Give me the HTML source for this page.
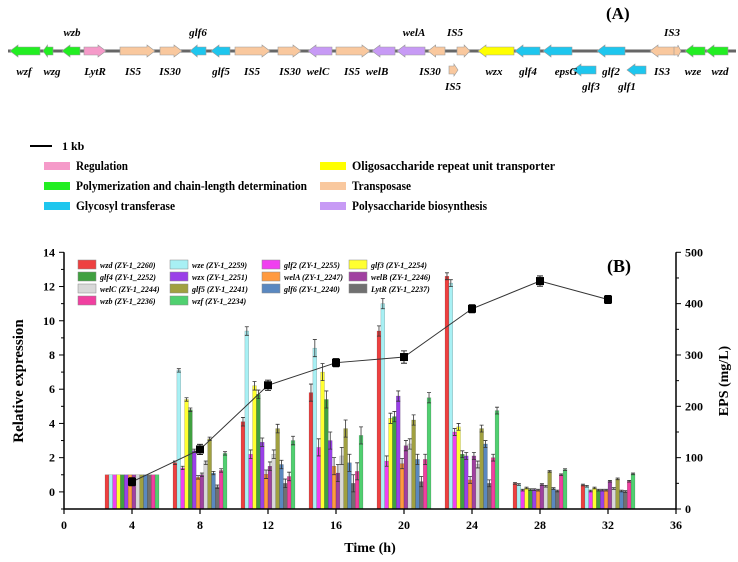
<!DOCTYPE html>
<html><head><meta charset="utf-8">
<style>
body{margin:0;background:#fff;}
svg{display:block;font-family:"Liberation Serif",serif;}
</style></head>
<body>
<svg id="fig" width="738" height="562" viewBox="0 0 738 562">
<g id="map">
<line x1="8" y1="51" x2="736" y2="51" stroke="#666" stroke-width="3"/>
</g>
<text x="606" y="19" font-size="17" font-weight="bold">(A)</text>
<g id="maplegend">
<line x1="30" y1="146" x2="52" y2="146" stroke="#000" stroke-width="2"/>
<text x="62" y="150" font-size="12" font-weight="bold">1 kb</text>
</g>
<g id="chart"></g>
</svg>
<script>
var NS="http://www.w3.org/2000/svg";
function mk(tag,attrs,parent,text){var e=document.createElementNS(NS,tag);for(var k in attrs)e.setAttribute(k,attrs[k]);if(text!==undefined)e.textContent=text;parent.appendChild(e);return e;}
var COL={reg:"#f59ac9",pol:"#22ee22",gly:"#1ec6ee",oli:"#ffff00",tra:"#f9c89e",psb:"#c79af5"};
var genes=[[10,40,-1,"pol",0],[43,53,-1,"pol",0],[62,80,-1,"pol",0],[84,106,1,"reg",0],[120,155,1,"tra",0],[160,182,1,"tra",0],[190,206,-1,"gly",0],[211,230,-1,"gly",0],[235,270,1,"tra",0],[278,301,1,"tra",0],[308,332,-1,"psb",0],[336,370,1,"tra",0],[372,395,-1,"psb",0],[397,425,-1,"psb",0],[428,445,-1,"tra",0],[457,470,1,"tra",0],[478,514,-1,"oli",0],[515,540,-1,"gly",0],[543,572,-1,"gly",0],[597,625,-1,"gly",0],[650,675,-1,"tra",0],[674,681,1,"tra",0],[685,705,-1,"pol",0],[706,728,-1,"pol",0],[449,458,1,"tra",1],[573,596,-1,"gly",1],[627,646,-1,"gly",1]];
var gmap=document.getElementById("map");
genes.forEach(function(g){var y=g[4]?70:51,h=6,hw=Math.min(8,(g[1]-g[0])*0.45),p;
 if(g[2]>0)p=[[g[0],y-h+2],[g[1]-hw,y-h+2],[g[1]-hw,y-h],[g[1],y],[g[1]-hw,y+h],[g[1]-hw,y+h-2],[g[0],y+h-2]];
 else p=[[g[1],y-h+2],[g[0]+hw,y-h+2],[g[0]+hw,y-h],[g[0],y],[g[0]+hw,y+h],[g[0]+hw,y+h-2],[g[1],y+h-2]];
 var e=mk("polygon",{points:p.map(function(q){return q.join(",")}).join(" "),fill:COL[g[3]],stroke:"#999","stroke-width":"0.6"},gmap);
 
 });
var glabels=[["wzb",72,36],["glf6",198,36],["welA",414,36],["IS5",455,36],["IS3",672,36],["wzf",24,75],["wzg",52,75],["LytR",95,75],["IS5",133,75],["IS30",170,75],["glf5",221,75],["IS5",252,75],["IS30",290,75],["welC",318,75],["IS5",352,75],["welB",377,75],["IS30",430,75],["wzx",494,75],["glf4",528,75],["epsG",566,75],["glf2",611,75],["IS3",662,75],["wze",693,75],["wzd",720,75],["IS5",453,90],["glf3",591,90],["glf1",627,90]];
glabels.forEach(function(l){var e=mk("text",{x:l[1],y:l[2],"font-size":"11","font-weight":"bold","font-style":"italic","text-anchor":"middle"},gmap,l[0]);
 
 });
var cats=[["reg","Regulation",44,166,52],["pol","Polymerization and chain-length determination",44,186,231],["gly","Glycosyl transferase",44,206,99],["oli","Oligosaccharide repeat unit transporter",320,166,203],["tra","Transposase",320,186,59],["psb","Polysaccharide biosynthesis",320,206,135]];
var ml=document.getElementById("maplegend");
cats.forEach(function(c){var r=mk("rect",{x:c[2],y:c[3]-4,width:26,height:8,fill:COL[c[0]]},ml);
 
 
 var t=mk("text",{x:c[2]+32,y:c[3]+4,"font-size":"12.5","font-weight":"bold",textLength:c[4],lengthAdjust:"spacingAndGlyphs"},ml,c[1]);
 
 });
</script>
<script>
var times=[4,8,12,16,20,24,28,32];
var seriesNames=["wzd (ZY-1_2260)","wze (ZY-1_2259)","glf2 (ZY-1_2255)","glf3 (ZY-1_2254)","glf4 (ZY-1_2252)","wzx (ZY-1_2251)","welA (ZY-1_2247)","welB (ZY-1_2246)","welC (ZY-1_2244)","glf5 (ZY-1_2241)","glf6 (ZY-1_2240)","LytR (ZY-1_2237)","wzb (ZY-1_2236)","wzf (ZY-1_2234)"];
var seriesColors=["#ee4040","#a8f0f4","#f040f0","#ffff30","#40a040","#9a40e8","#ff9a40","#a040a0","#d8d8d8","#a0a040","#5a88c0","#707070","#f040a0","#50d070"];
var wzd=[1,1.7,4.1,5.8,9.4,12.6,0.5,0.4];
var wze=[1,7.1,9.4,8.4,11.0,12.2,0.43,0.33];
var glf2=[1,1.4,2.2,2.6,1.8,3.5,0.1,0.05];
var glf3=[1,5.4,6.2,7.0,4.3,3.8,0.23,0.23];
var glf4=[1,4.8,5.7,5.4,4.4,2.2,0.13,0.1];
var wzx=[1,2.4,2.9,3.0,5.6,2.1,0.13,0.1];
var welA=[1,0.85,1.03,1.5,1.65,0.7,0.1,0.1];
var welB=[1,1.0,1.5,1.1,2.7,2.1,0.43,0.62];
var welC=[1,1.7,2.2,2.1,2.8,1.6,0.33,0.2];
var glf5=[1,3.1,3.7,3.7,4.2,3.7,1.2,0.76];
var glf6=[1,1.1,1.6,1.7,1.9,2.8,0.2,0.05];
var lytR=[1,0.3,0.5,0.5,0.6,0.5,0.05,0.02];
var wzb=[1,1.25,0.9,1.2,1.9,2.0,1.0,0.62];
var wzf=[1,2.25,3.0,3.3,5.5,4.75,1.3,1.05];
var errs=[0,0.1,0.25,0.5,0.3,0.2,0.05,0.05];
var eps=[53,116,241,285,296,390,444,408];
var epsErr=[8,10,10,8,12,8,10,8];
var xTicks=[0,4,8,12,16,20,24,28,32,36];
var yTicks=[0,2,4,6,8,10,12,14];
var y2Ticks=[0,100,200,300,400,500];

var allSeries=[wzd,wze,glf2,glf3,glf4,wzx,welA,welB,welC,glf5,glf6,lytR,wzb,wzf];
var X0=64,X1=676,Y0=509,Y1=252.3;
function sx(t){return X0+(t-0)/36*(X1-X0);}
function sy(v){return Y0-(v+1)/15*(Y0-Y1);}
function sy2(v){return Y0-v/500*(Y0-Y1);}
var ch=document.getElementById("chart");
var bw=3.85,n=allSeries.length;
allSeries.forEach(function(s,si){
 s.forEach(function(v,ti){
  var x=sx(times[ti])-n*bw/2+si*bw,yt=sy(v);
  var b=mk("rect",{x:x,y:yt,width:bw,height:Y0-yt,fill:seriesColors[si],stroke:"rgba(0,0,0,0.35)","stroke-width":"0.4"},ch);
  
  
  if(errs[ti]>0){var e=errs[ti],cx=x+bw/2;
   var eb=mk("path",{d:"M"+cx+","+sy(v+e)+"V"+sy(v-e)+"M"+(cx-2)+","+sy(v+e)+"h4M"+(cx-2)+","+sy(v-e)+"h4",stroke:"#333","stroke-width":"0.8",fill:"none"},ch);
   
   }
 });
});
var pts=eps.map(function(v,i){return sx(times[i])+","+sy2(v);}).join(" ");
var ln=mk("polyline",{points:pts,fill:"none",stroke:"#333","stroke-width":"1"},ch);


eps.forEach(function(v,i){var cx=sx(times[i]),cy=sy2(v),e=epsErr[i];
 var eb=mk("path",{d:"M"+cx+","+sy2(v+e)+"V"+sy2(v-e)+"M"+(cx-3)+","+sy2(v+e)+"h6M"+(cx-3)+","+sy2(v-e)+"h6",stroke:"#000","stroke-width":"0.8"},ch);
 
 
 var m=mk("rect",{x:cx-4,y:cy-4,width:8,height:8,fill:"#000"},ch);
 
 });
var ax=mk("path",{d:"M"+X0+","+Y1+"V"+Y0+"H"+X1+"V"+Y1,stroke:"#000","stroke-width":"1.5",fill:"none"},ch);


xTicks.forEach(function(t){var x=sx(t);
 var tk=mk("line",{x1:x,y1:Y0,x2:x,y2:Y0+5,stroke:"#000","stroke-width":"1.2"},ch);
 
 
 var tl=mk("text",{x:x,y:Y0+20,"font-size":"12","font-weight":"bold","text-anchor":"middle"},ch,String(t));
 
 });
for(var m2=-1;m2<=14;m2++){var y=sy(m2),major=(m2>=0&&m2%2===0);
 var tk=mk("line",{x1:X0,y1:y,x2:X0-(major?5:3),y2:y,stroke:"#000","stroke-width":"1"},ch);
 
 }
yTicks.forEach(function(v){var tl=mk("text",{x:X0-9,y:sy(v)+4,"font-size":"12","font-weight":"bold","text-anchor":"end"},ch,String(v));
 
 });
for(var r=0;r<=500;r+=50){var y=sy2(r),major=r%100===0;
 var tk=mk("line",{x1:X1,y1:y,x2:X1+(major?5:3),y2:y,stroke:"#000","stroke-width":"1"},ch);
 
 }
y2Ticks.forEach(function(v){var tl=mk("text",{x:X1+9,y:sy2(v)+4,"font-size":"12","font-weight":"bold"},ch,String(v));
 
 });
var xt=mk("text",{x:370,y:552,"font-size":"14","font-weight":"bold","text-anchor":"middle"},ch,"Time (h)");


var yt=mk("text",{transform:"translate(23,381) rotate(-90)","font-size":"15","font-weight":"bold","text-anchor":"middle"},ch,"Relative expression");


var y2t=mk("text",{transform:"translate(728,381) rotate(-90)","font-size":"14","font-weight":"bold","text-anchor":"middle"},ch,"EPS (mg/L)");


var pb=mk("text",{x:607,y:272,"font-size":"18","font-weight":"bold"},ch,"(B)");


var colsX=[78,170,262,349],rowsY=[265,277,289,301];
seriesNames.forEach(function(nm,i){var cx=colsX[i%4],cy=rowsY[Math.floor(i/4)];
 var sw=mk("rect",{x:cx,y:cy-5,width:18,height:9,fill:seriesColors[i],stroke:"#888","stroke-width":"0.5"},ch);
 
 
 var t=mk("text",{x:cx+22,y:cy+3,"font-size":"8","font-weight":"bold","font-style":"italic"},ch,nm);
 
 });
</script>
</body></html>
